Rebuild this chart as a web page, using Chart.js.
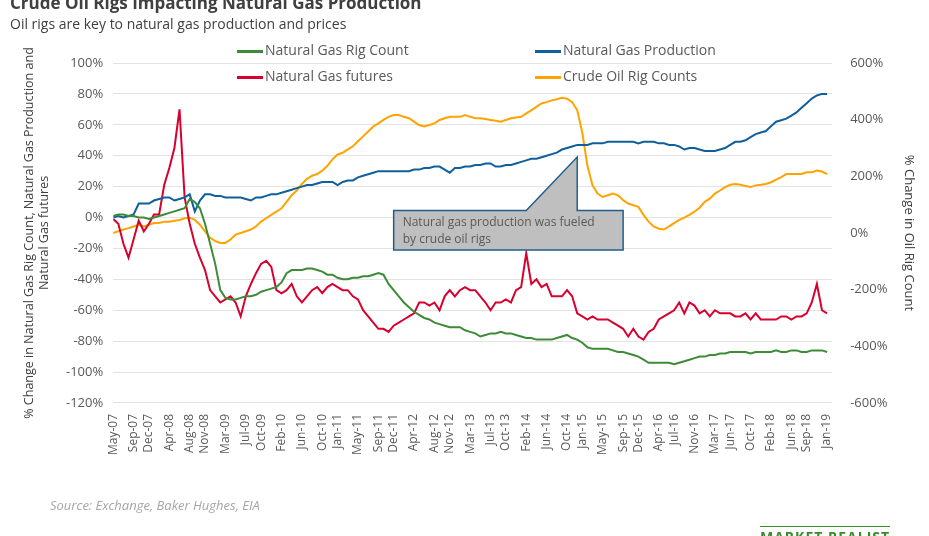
<!DOCTYPE html>
<html>
<head>
<meta charset="utf-8">
<script src="https://cdn.jsdelivr.net/npm/chart.js@4"></script>
<style>
  body { margin: 0; width: 929px; height: 536px; overflow: hidden; background: #fff; font-family: "Open Sans", sans-serif; position: relative; }
  #head { position: absolute; left: 10px; top: -9px; }
  #head h1 { margin: 0; font-size: 17px; font-weight: bold; color: #404040; }
  #head p { margin: 0; font-size: 14px; color: #404040; }
  #legend { position: absolute; top: 40px; left: 237px; width: 500px; font-size: 14px; color: #595959; }
  .item { position: absolute; white-space: nowrap; }
  .item span { display: inline-block; width: 26px; height: 3px; vertical-align: middle; margin-right: 2px; }
  #source { position: absolute; left: 50px; top: 496px; font-size: 13px; font-style: italic; color: #a6a6a6; }
  #logo { position: absolute; left: 760px; top: 526px; font-size: 14px; font-weight: bold; color: #3a8a2e; letter-spacing: 1px; border-top: 1px solid #3a8a2e; }
  #wrap { position: absolute; left: 0; top: 0; width: 929px; height: 536px; }
</style>
</head>
<body>
<div id="wrap"><canvas id="myChart"></canvas></div>
<div id="head">
  <h1>Crude Oil Rigs Impacting Natural Gas Production</h1>
  <p>Oil rigs are key to natural gas production and prices</p>
</div>
<div id="legend"></div>
<div id="source">Source: Exchange, Baker Hughes, EIA</div>
<div id="logo">MARKET REALIST</div>
<script>
// month index 0 = May-07, one value per month up to Jan-19 (140)
var tickMonths = [0, 4, 7, 11, 15, 18, 22, 26, 29, 33, 37, 41, 44, 48, 52, 55, 59, 63, 66, 70, 74, 77, 81, 85, 89, 92, 96, 100, 103, 107, 110, 114, 118, 121, 125, 129, 133, 136, 140];
var tickLabels = ["May-07", "Sep-07", "Dec-07", "Apr-08", "Aug-08", "Nov-08", "Mar-09", "Jul-09", "Oct-09", "Feb-10", "Jun-10", "Oct-10", "Jan-11", "May-11", "Sep-11", "Dec-11", "Apr-12", "Aug-12", "Nov-12", "Mar-13", "Jul-13", "Oct-13", "Feb-14", "Jun-14", "Oct-14", "Jan-15", "May-15", "Sep-15", "Dec-15", "Apr-16", "Jul-16", "Nov-16", "Mar-17", "Jun-17", "Oct-17", "Feb-18", "Jun-18", "Sep-18", "Jan-19"];

var gasRigCount = [1, 2, 2, 1, 1, 0, 0, -1, 0, 1, 2, 3, 4, 5, 6, 12, 10, 6, -4, -17,
  -30, -47, -52, -53, -53, -52, -51, -51, -50, -48, -47, -46, -45, -42, -36, -34, -34, -34, -33, -33,
  -34, -35, -37, -37, -39, -40, -40, -39, -39, -38, -38, -37, -36, -37, -43, -47, -51, -55, -58, -61,
  -63, -65, -66, -68, -69, -70, -71, -71, -71, -73, -74, -75, -77, -76, -75, -75, -74, -75, -75, -76,
  -77, -78, -78, -79, -79, -79, -79, -78, -77, -76, -78, -79, -81, -84, -85, -85, -85, -85, -86, -87,
  -87, -88, -89, -90, -92, -94, -94, -94, -94, -94, -95, -94, -93, -92, -91, -90, -90, -89, -89, -88,
  -88, -87, -87, -87, -87, -88, -87, -87, -87, -87, -86, -87, -87, -86, -86, -87, -87, -86, -86, -86, -87];

var gasProduction = [0, 1, 0, 1, 2, 9, 9, 9, 11, 12, 13, 13, 11, 12, 13, 15, 4, 11, 15, 15,
  14, 14, 13, 13, 13, 13, 12, 11, 13, 13, 14, 15, 15, 16, 17, 18, 19, 20, 21, 21,
  22, 23, 23, 23, 21, 23, 24, 24, 26, 27, 28, 29, 30, 30, 30, 30, 30, 30, 30, 31,
  31, 32, 32, 33, 33, 31, 29, 32, 32, 33, 33, 34, 34, 35, 35, 33, 33, 34, 34, 35,
  36, 37, 38, 38, 39, 40, 41, 42, 44, 45, 46, 47, 47, 47, 48, 48, 48, 49, 49, 49,
  49, 49, 49, 48, 49, 49, 49, 48, 48, 47, 47, 46, 44, 45, 45, 44, 43, 43, 43, 44,
  45, 47, 49, 49, 50, 52, 54, 55, 56, 59, 62, 63, 64, 66, 68, 71, 74, 77, 79, 80, 80];

var gasFutures = [-1, -4, -17, -26, -14, -2, -9, -4, 2, 2, 21, 32, 45, 70, 13, -4, -17, -26, -34, -47,
  -51, -55, -53, -51, -55, -64, -51, -43, -36, -30, -28, -32, -47, -49, -47, -43, -51, -55, -51, -47,
  -45, -49, -45, -43, -45, -47, -47, -51, -53, -60, -64, -68, -72, -72, -74, -70, -68, -66, -64, -62,
  -55, -55, -57, -55, -60, -51, -47, -51, -47, -45, -47, -47, -51, -55, -60, -55, -55, -53, -55, -47,
  -45, -23, -43, -40, -45, -43, -51, -51, -51, -47, -51, -62, -64, -66, -64, -66, -66, -66, -68, -70,
  -72, -77, -72, -77, -79, -74, -72, -66, -64, -62, -60, -55, -62, -55, -57, -62, -60, -64, -60, -62,
  -62, -62, -64, -64, -62, -66, -62, -66, -66, -66, -66, -64, -64, -66, -64, -64, -62, -55, -43, -60, -62];

var oilRigCounts = [0, 6, 12, 17, 23, 29, 23, 29, 35, 35, 40, 40, 43, 46, 52, 54, 46, 29, 6, -17,
  -29, -35, -35, -23, -6, 0, 6, 12, 23, 40, 52, 64, 75, 87, 110, 133, 150, 173, 191, 202,
  208, 220, 237, 260, 277, 283, 295, 306, 324, 341, 358, 376, 387, 399, 410, 416, 416, 410, 405, 393,
  381, 376, 381, 387, 399, 405, 410, 410, 410, 416, 410, 405, 405, 402, 399, 396, 393, 399, 405, 408,
  410, 422, 433, 445, 457, 462, 468, 472, 477, 474, 462, 434, 353, 237, 168, 139, 127, 133, 139, 133,
  116, 104, 98, 92, 64, 40, 23, 15, 12, 23, 35, 46, 54, 64, 75, 89, 110, 121, 139, 150,
  162, 170, 173, 170, 166, 162, 168, 170, 173, 179, 188, 197, 208, 208, 208, 208, 214, 214, 220, 217, 208];

function toPoints(arr) {
  return arr.map(function (v, i) { return { x: i, y: v }; });
}

var series = [
  { label: "Natural Gas Rig Count", data: gasRigCount, color: "#3d8b37", axis: "y" },
  { label: "Natural Gas Production", data: gasProduction, color: "#0f5f9c", axis: "y" },
  { label: "Natural Gas futures", data: gasFutures, color: "#d7002f", axis: "y" },
  { label: "Crude Oil Rig Counts", data: oilRigCounts, color: "#ffa300", axis: "y1" }
];

// html legend, two columns
var legendPos = [[0, 0], [298, 0], [0, 26], [298, 26]];
var legendDiv = document.getElementById("legend");
series.forEach(function (s, i) {
  var d = document.createElement("div");
  d.className = "item";
  d.style.left = legendPos[i][0] + "px";
  d.style.top = legendPos[i][1] + "px";
  d.innerHTML = '<span style="background:' + s.color + '"></span>' + s.label;
  legendDiv.appendChild(d);
});

// callout box with pointer to the crude oil drop
var calloutPlugin = {
  id: "callout",
  afterDatasetsDraw: function (chart) {
    var ctx = chart.ctx;
    var x = chart.scales.x, y = chart.scales.y, y1 = chart.scales.y1;
    var left = x.getPixelForValue(55), right = x.getPixelForValue(100);
    var top = y.getPixelForValue(4.5), bottom = y.getPixelForValue(-21);
    var tipX = x.getPixelForValue(91), tipY = y1.getPixelForValue(268);
    ctx.save();
    ctx.beginPath();
    ctx.moveTo(left, top);
    ctx.lineTo(x.getPixelForValue(81), top);
    ctx.lineTo(tipX, tipY);
    ctx.lineTo(tipX, top);
    ctx.lineTo(right, top);
    ctx.lineTo(right, bottom);
    ctx.lineTo(left, bottom);
    ctx.closePath();
    ctx.fillStyle = "#bfbfbf";
    ctx.fill();
    ctx.strokeStyle = "#1f5f8f";
    ctx.lineWidth = 1.5;
    ctx.stroke();
    ctx.fillStyle = "#595959";
    ctx.font = "12px 'Open Sans'";
    ctx.textBaseline = "middle";
    ctx.fillText("Natural gas production was fueled", left + 9, top + 12);
    ctx.fillText("by crude oil rigs", left + 9, top + 29);
    ctx.restore();
  }
};

var ctx = document.getElementById("myChart").getContext("2d");
var chart = new Chart(ctx, {
  type: "line",
  data: {
    datasets: series.map(function (s) {
      return {
        label: s.label,
        data: toPoints(s.data),
        borderColor: s.color,
        backgroundColor: s.color,
        borderWidth: 2,
        pointRadius: 0,
        tension: 0,
        yAxisID: s.axis
      };
    })
  },
  plugins: [calloutPlugin],
  options: {
    responsive: true,
    maintainAspectRatio: false,
    animation: false,
    layout: { padding: { top: 63, bottom: 78, left: 18, right: 8 } },
    plugins: { legend: { display: false }, tooltip: { enabled: false } },
    scales: {
      x: {
        type: "linear",
        min: 0,
        max: 141,
        grid: { display: false },
        border: { display: false },
        afterBuildTicks: function (axis) {
          axis.ticks = tickMonths.map(function (m) { return { value: m }; });
        },
        ticks: {
          autoSkip: false,
          minRotation: 90,
          maxRotation: 90,
          color: "#595959",
          font: { size: 12, family: "Open Sans" },
          callback: function (v) {
            var i = tickMonths.indexOf(v);
            return i >= 0 ? tickLabels[i] : "";
          }
        }
      },
      y: {
        position: "left",
        min: -120,
        max: 100,
        grid: { color: "#e3e3e3", drawTicks: false },
        border: { display: false },
        ticks: { stepSize: 20, padding: 10, color: "#595959", font: { size: 13, family: "Open Sans" },
          callback: function (v) { return v + "%"; } },
        title: {
          display: true,
          text: ["% Change in Natural Gas Rig Count, Natural Gas Production and", "Natural Gas futures"],
          color: "#404040",
          font: { size: 12.5, family: "Open Sans" },
          padding: { bottom: 4 }
        }
      },
      y1: {
        position: "right",
        min: -600,
        max: 600,
        grid: { display: false },
        border: { display: false },
        ticks: { stepSize: 200, padding: 10, color: "#595959", font: { size: 13, family: "Open Sans" },
          callback: function (v) { return v + "%"; } },
        title: {
          display: true,
          text: "% Change in Oil Rig Count",
          color: "#404040",
          font: { size: 13, family: "Open Sans" }
        }
      }
    }
  }
});
</script>
</body>
</html>
